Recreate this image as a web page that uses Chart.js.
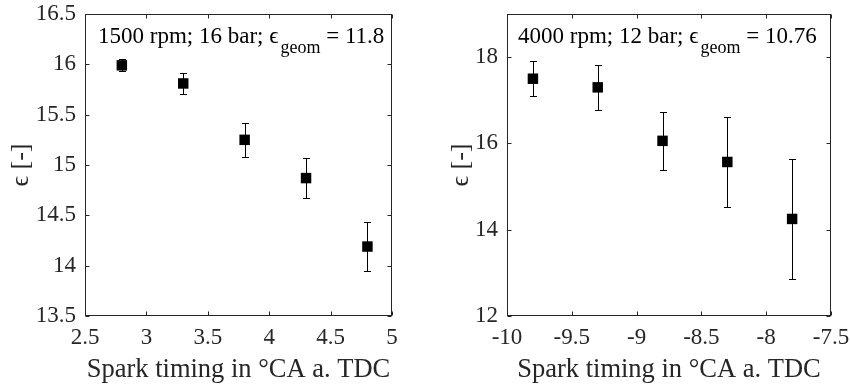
<!DOCTYPE html>
<html>
<head>
<meta charset="utf-8">
<script src="https://cdn.jsdelivr.net/npm/chart.js@4.4.1/dist/chart.umd.min.js"></script>
<style>
  body { margin: 0; background: #fff; }
  #wrap { position: relative; width: 850px; height: 386px; }
  .pane { position: absolute; top: 0; width: 425px; height: 386px; }
</style>
</head>
<body>
<div id="wrap">
  <div class="pane" style="left:0"><canvas id="leftChart"></canvas></div>
  <div class="pane" style="left:425px"><canvas id="rightChart"></canvas></div>
</div>
<script>
// --- left panel: 1500 rpm, 16 bar ---
const sparkLeft = [2.8, 3.3, 3.8, 4.3, 4.8];
const epsLeft = [15.99, 15.81, 15.25, 14.87, 14.19];
const errLeft = [0.06, 0.10, 0.17, 0.20, 0.245];
const xTicksLeft = [2.5, 3, 3.5, 4, 4.5, 5];
const yTicksLeft = [13.5, 14, 14.5, 15, 15.5, 16, 16.5];
const noteLeft = ["1500 rpm; 16 bar; \u03f5", "geom", " = 11.8"];

// --- right panel: 4000 rpm, 12 bar ---
const sparkRight = [-9.8, -9.3, -8.8, -8.3, -7.8];
const epsRight = [17.50, 17.30, 16.06, 15.57, 14.25];
const errRight = [0.40, 0.52, 0.68, 1.05, 1.39];
const xTicksRight = [-10, -9.5, -9, -8.5, -8, -7.5];
const yTicksRight = [12, 14, 16, 18];
const noteRight = ["4000 rpm; 12 bar; \u03f5", "geom", " = 10.76"];

const xTitle = "Spark timing in \u00b0CA a. TDC";
const yTitle = "\u03f5 [-]";

const FONT = "'Liberation Serif', 'Times New Roman', serif";
const INK = '#262626';

// error bars, box, inward ticks and the text note
const extras = {
    id: 'extras',
    beforeDatasetsDraw(chart, args, o) {
        const { ctx } = chart;
        const sx = chart.scales.x, sy = chart.scales.y;
        ctx.save();
        ctx.strokeStyle = '#000';
        ctx.lineWidth = 1;
        chart.data.datasets[0].data.forEach((d, i) => {
            const px = Math.round(sx.getPixelForValue(d.x)) + 0.5;
            const top = Math.round(sy.getPixelForValue(d.y + o.errs[i])) + 0.5;
            const bot = Math.round(sy.getPixelForValue(d.y - o.errs[i])) + 0.5;
            ctx.beginPath();
            ctx.moveTo(px, top); ctx.lineTo(px, bot);
            ctx.moveTo(px - 3.5, top); ctx.lineTo(px + 3.5, top);
            ctx.moveTo(px - 3.5, bot); ctx.lineTo(px + 3.5, bot);
            ctx.stroke();
        });
        ctx.restore();
    },
    afterDraw(chart, args, o) {
        const { ctx, chartArea: a } = chart;
        const sx = chart.scales.x, sy = chart.scales.y;
        const L = Math.round(a.left) + 0.5, R = Math.round(a.right) - 0.5;
        const T = Math.round(a.top) + 0.5, B = Math.round(a.bottom) - 0.5;
        ctx.save();
        ctx.strokeStyle = INK;
        ctx.lineWidth = 1;
        ctx.strokeRect(L, T, R - L, B - T);
        ctx.beginPath();
        sx.ticks.forEach(t => {
            const p = Math.round(sx.getPixelForValue(t.value)) + 0.5;
            ctx.moveTo(p, B); ctx.lineTo(p, B - 4);
            ctx.moveTo(p, T); ctx.lineTo(p, T + 4);
        });
        sy.ticks.forEach(t => {
            const p = Math.round(sy.getPixelForValue(t.value)) + 0.5;
            ctx.moveTo(L, p); ctx.lineTo(L + 4, p);
            ctx.moveTo(R, p); ctx.lineTo(R - 4, p);
        });
        ctx.stroke();

        // annotation with subscript
        ctx.fillStyle = '#000';
        ctx.textBaseline = 'alphabetic';
        let x = a.left + o.noteDx;
        ctx.font = `23px ${FONT}`;
        ctx.fillText(o.note[0], x, 43);
        x += ctx.measureText(o.note[0]).width + 2;
        ctx.font = `18px ${FONT}`;
        ctx.fillText(o.note[1], x, 53);
        x += ctx.measureText(o.note[1]).width;
        ctx.font = `23px ${FONT}`;
        ctx.fillText(o.note[2], x, 43);
        ctx.restore();
    }
};

function makeChart(id, p) {
    const data = p.xs.map((x, i) => ({ x: x, y: p.ys[i] }));
    return new Chart(document.getElementById(id), {
        type: 'scatter',
        data: {
            datasets: [{
                data: data,
                pointStyle: 'rect',
                pointRadius: 7.4,
                pointHoverRadius: 7.4,
                backgroundColor: '#000',
                borderColor: '#000',
                borderWidth: 0
            }]
        },
        options: {
            responsive: true,
            maintainAspectRatio: false,
            animation: false,
            events: [],
            layout: { padding: { left: 0, top: 14, right: p.padRight, bottom: 0 } },
            plugins: {
                legend: { display: false },
                tooltip: { enabled: false },
                extras: { errs: p.errs, note: p.note, noteDx: p.noteDx }
            },
            scales: {
                x: {
                    type: 'linear',
                    min: p.xTicks[0],
                    max: p.xTicks[p.xTicks.length - 1],
                    afterBuildTicks: s => { s.ticks = p.xTicks.map(v => ({ value: v })); },
                    afterFit: s => { s.height = 70; s.paddingLeft = 0; s.paddingRight = 0; },
                    grid: { display: false, drawTicks: false },
                    border: { display: false },
                    ticks: { color: INK, padding: 8, font: { family: FONT, size: 23 }, callback: v => String(v) },
                    title: { display: true, text: xTitle, color: INK, font: { family: FONT, size: 26.5 }, padding: { top: 0, bottom: 0 } }
                },
                y: {
                    type: 'linear',
                    min: p.yMin,
                    max: p.yMax,
                    afterBuildTicks: s => { s.ticks = p.yTicks.map(v => ({ value: v })); },
                    afterFit: s => { s.width = p.yWidth; s.paddingTop = 0; s.paddingBottom = 0; },
                    grid: { display: false, drawTicks: false },
                    border: { display: false },
                    ticks: { color: INK, padding: 9, font: { family: FONT, size: 23 }, callback: v => String(v) },
                    title: { display: true, text: yTitle, color: INK, font: { family: FONT, size: 26 }, padding: { top: p.yTitlePad, bottom: 0 } }
                }
            }
        },
        plugins: [extras]
    });
}

makeChart('leftChart', {
    xs: sparkLeft, ys: epsLeft, errs: errLeft,
    xTicks: xTicksLeft, yTicks: yTicksLeft, yMin: 13.5, yMax: 16.5,
    yWidth: 85, padRight: 33, yTitlePad: 6, note: noteLeft, noteDx: 13
});
makeChart('rightChart', {
    xs: sparkRight, ys: epsRight, errs: errRight,
    xTicks: xTicksRight, yTicks: yTicksRight, yMin: 12, yMax: 19,
    yWidth: 82, padRight: 19, yTitlePad: 21, note: noteRight, noteDx: 11
});
</script>
</body>
</html>
